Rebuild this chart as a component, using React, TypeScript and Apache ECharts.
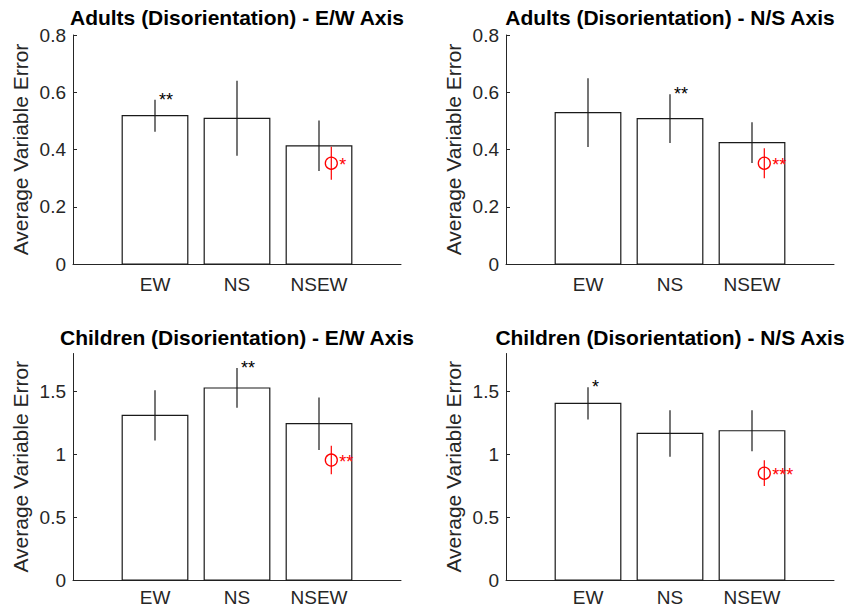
import React, { useEffect, useRef } from "react";
import * as echarts from "echarts";

const categories = ["EW", "NS", "NSEW"];
const panelTitles = [
  "Adults (Disorientation) - E/W Axis",
  "Adults (Disorientation) - N/S Axis",
  "Children (Disorientation) - E/W Axis",
  "Children (Disorientation) - N/S Axis",
];
const yAxisLabel = "Average Variable Error";

const adultsEWMeans = [0.518, 0.509, 0.413];
const adultsEWErrors = [0.056, 0.131, 0.088];
const adultsEWStars = ["**", "", ""];
const adultsEWRedMean = 0.352;
const adultsEWRedError = 0.058;
const adultsEWRedStars = "*";

const adultsNSMeans = [0.529, 0.508, 0.424];
const adultsNSErrors = [0.12, 0.085, 0.071];
const adultsNSStars = ["", "**", ""];
const adultsNSRedMean = 0.352;
const adultsNSRedError = 0.052;
const adultsNSRedStars = "**";

const childrenEWMeans = [1.308, 1.526, 1.242];
const childrenEWErrors = [0.2, 0.158, 0.208];
const childrenEWStars = ["", "**", ""];
const childrenEWRedMean = 0.953;
const childrenEWRedError = 0.113;
const childrenEWRedStars = "**";

const childrenNSMeans = [1.404, 1.165, 1.186];
const childrenNSErrors = [0.128, 0.185, 0.163];
const childrenNSStars = ["*", "", ""];
const childrenNSRedMean = 0.849;
const childrenNSRedError = 0.102;
const childrenNSRedStars = "***";

const redMarkerX = 3.15;
const adultsTicks = [0, 0.2, 0.4, 0.6, 0.8];
const adultsMax = 0.8;
const childrenTicks = [0, 0.5, 1, 1.5];
const childrenMax = 1.8;

const FONT = "'Liberation Sans', Arial, Helvetica, sans-serif";
const AXIS_COLOR = "#262626";
const RED = "#ff0000";

export default function App() {
  const ref = useRef<HTMLDivElement>(null);

  useEffect(() => {
    if (!ref.current) return;
    const chart = echarts.init(ref.current, null, { renderer: "svg" });

    const panels = [
      { means: adultsEWMeans, errors: adultsEWErrors, stars: adultsEWStars, red: [adultsEWRedMean, adultsEWRedError], redStars: adultsEWRedStars, ticks: adultsTicks, max: adultsMax },
      { means: adultsNSMeans, errors: adultsNSErrors, stars: adultsNSStars, red: [adultsNSRedMean, adultsNSRedError], redStars: adultsNSRedStars, ticks: adultsTicks, max: adultsMax },
      { means: childrenEWMeans, errors: childrenEWErrors, stars: childrenEWStars, red: [childrenEWRedMean, childrenEWRedError], redStars: childrenEWRedStars, ticks: childrenTicks, max: childrenMax },
      { means: childrenNSMeans, errors: childrenNSErrors, stars: childrenNSStars, red: [childrenNSRedMean, childrenNSRedError], redStars: childrenNSRedStars, ticks: childrenTicks, max: childrenMax },
    ];

    const grids = [
      { left: 73, top: 35, width: 328, height: 229 },
      { left: 506, top: 35, width: 328, height: 229 },
      { left: 73, top: 353.5, width: 328, height: 226.5 },
      { left: 506, top: 353.5, width: 328, height: 226.5 },
    ];
    const xLabelMargins = [11, 11, 8, 8];
    const titleY = [17.5, 17.5, 337, 337];

    const xAxes: any[] = [];
    const yAxes: any[] = [];
    const series: any[] = [];
    const graphics: any[] = [];

    panels.forEach((p, k) => {
      xAxes.push({
        type: "value",
        gridIndex: k,
        min: 0,
        max: 4,
        interval: 1,
        axisLine: { show: true, lineStyle: { color: AXIS_COLOR, width: 1 } },
        axisTick: { show: false },
        splitLine: { show: false },
        axisLabel: {
          customValues: [1, 2, 3],
          formatter: (v: number) => categories[Math.round(v) - 1] ?? "",
          color: AXIS_COLOR,
          fontSize: 19,
          fontFamily: FONT,
          margin: xLabelMargins[k],
        },
      });
      yAxes.push({
        type: "value",
        gridIndex: k,
        min: 0,
        max: p.max,
        axisLine: { show: true, lineStyle: { color: AXIS_COLOR, width: 1 } },
        axisTick: { show: true, inside: true, length: 4, customValues: p.ticks, lineStyle: { color: AXIS_COLOR } },
        splitLine: { show: false },
        axisLabel: {
          customValues: p.ticks,
          color: AXIS_COLOR,
          fontSize: 19,
          fontFamily: FONT,
          margin: 7,
        },
        name: yAxisLabel,
        nameLocation: "middle",
        nameGap: 42,
        nameTextStyle: { fontSize: 21, color: AXIS_COLOR, fontFamily: FONT },
      });

      series.push({
        type: "custom",
        xAxisIndex: k,
        yAxisIndex: k,
        clip: false,
        data: p.means.map((m, i) => [i + 1, m, p.errors[i]]),
        encode: { x: 0, y: 1 },
        renderItem: (params: any, api: any) => {
          const i = params.dataIndex;
          const x = api.value(0);
          const m = api.value(1);
          const e = api.value(2);
          const base = api.coord([x, 0]);
          const top = api.coord([x, m]);
          const w = api.size([0.8, 0])[0];
          const et = api.coord([x, m + e]);
          const eb = api.coord([x, m - e]);
          const children: any[] = [
            {
              type: "rect",
              shape: { x: base[0] - w / 2, y: top[1], width: w, height: base[1] - top[1] },
              style: { fill: "#ffffff", stroke: "#1a1a1a", lineWidth: 1.2 },
            },
            {
              type: "line",
              shape: { x1: et[0], y1: et[1], x2: eb[0], y2: eb[1] },
              style: { stroke: "#1a1a1a", lineWidth: 1.2 },
            },
          ];
          if (p.stars[i]) {
            children.push({
              type: "text",
              x: et[0] + 4,
              y: et[1],
              style: { text: p.stars[i], fill: "#000", font: `18px ${FONT}`, align: "left", verticalAlign: "middle" },
            });
          }
          return { type: "group", children };
        },
      });

      series.push({
        type: "custom",
        xAxisIndex: k,
        yAxisIndex: k,
        clip: false,
        data: [[redMarkerX, p.red[0], p.red[1]]],
        encode: { x: 0, y: 1 },
        renderItem: (params: any, api: any) => {
          const x = api.value(0);
          const m = api.value(1);
          const e = api.value(2);
          const c = api.coord([x, m]);
          const et = api.coord([x, m + e]);
          const eb = api.coord([x, m - e]);
          return {
            type: "group",
            children: [
              {
                type: "line",
                shape: { x1: et[0], y1: et[1], x2: eb[0], y2: eb[1] },
                style: { stroke: RED, lineWidth: 1.2 },
              },
              {
                type: "circle",
                shape: { cx: c[0], cy: c[1], r: 6 },
                style: { fill: "none", stroke: RED, lineWidth: 1.3 },
              },
              {
                type: "text",
                x: c[0] + 8,
                y: c[1] + 2,
                style: { text: p.redStars, fill: RED, font: `18px ${FONT}`, align: "left", verticalAlign: "middle" },
              },
            ],
          };
        },
      });

      graphics.push({
        type: "text",
        x: grids[k].left + grids[k].width / 2,
        y: titleY[k],
        style: {
          text: panelTitles[k],
          fill: "#000",
          font: `bold 21px ${FONT}`,
          align: "center",
          verticalAlign: "middle",
        },
      });
    });

    chart.setOption({
      animation: false,
      backgroundColor: "#ffffff",
      grid: grids.map((g) => ({ ...g, containLabel: false })),
      xAxis: xAxes,
      yAxis: yAxes,
      series,
      graphic: graphics,
    });

    return () => chart.dispose();
  }, []);

  return (
    <div
      ref={ref}
      style={{ position: "absolute", left: 0, top: 0, width: 846, height: 610 }}
    />
  );
}
